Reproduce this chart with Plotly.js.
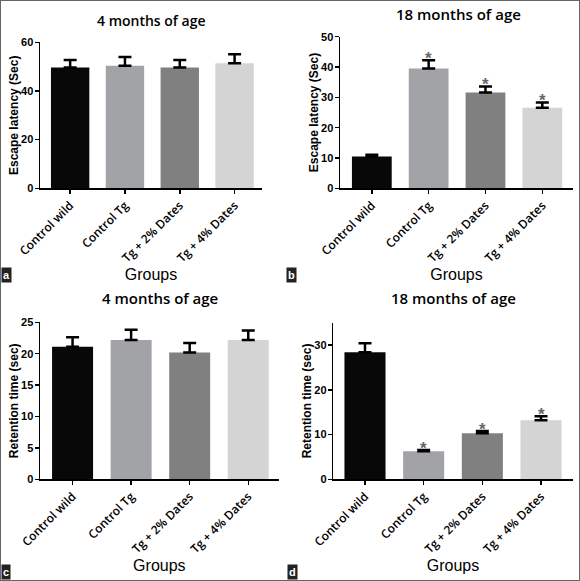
<!DOCTYPE html>
<html>
<head>
<meta charset="utf-8">
<script src="https://cdn.plot.ly/plotly-3.0.1.min.js"></script>
<style>html,body{margin:0;padding:0;background:#fff;}#chart{width:580px;height:581px;}</style>
</head>
<body>
<div id="chart"></div>
<script>
// ---- data ----
const categories = ["Control wild", "Control Tg", "Tg + 2% Dates", "Tg + 4% Dates"];
const barColors = ["#080808", "#a2a3a7", "#808080", "#d4d4d4"];

const escape4 = [49.6, 50.4, 49.6, 51.4];
const escape4Err = [3.1, 3.6, 3.1, 3.7];

const escape18 = [10.5, 39.5, 31.6, 26.6];
const escape18Err = [0.6, 2.7, 2.0, 1.7];
const escape18Sig = [false, true, true, true];

const retention4 = [21.1, 22.2, 20.2, 22.2];
const retention4Err = [1.5, 1.6, 1.5, 1.5];

const retention18 = [28.4, 6.25, 10.3, 13.2];
const retention18Err = [2.0, 0.3, 0.5, 0.9];
const retention18Sig = [false, true, true, true];

const panelTitles = ["4 months of age", "18 months of age", "4 months of age", "18 months of age"];
const yTitles = ["Escape latency (Sec)", "Escape latency (Sec)", "Retention time (sec)", "Retention time (sec)"];
const xTitle = "Groups";
const panelLetters = ["a", "b", "c", "d"];

// ---- layout helpers ----
const W = 580, H = 581;
const px = (a, b) => [a / W, b / W];
const py = (top, bottom) => [(H - bottom) / H, (H - top) / H];

const panels = [
  {vals: escape4, err: escape4Err, sig: null, xd: px(40, 262), yd: py(42.3, 188.3), yr: [0, 60], dt: 20, xr: [-0.55, 3.5], tsize: 14, tpos: [151.7, 20], gs: 0},
  {vals: escape18, err: escape18Err, sig: escape18Sig, xd: px(340, 573), yd: py(36.7, 188.3), yr: [0, 50], dt: 10, xr: [-0.56, 3.54], tsize: 15, tpos: [458, 14], gs: 3},
  {vals: retention4, err: retention4Err, sig: null, xd: px(40, 278.7), yd: py(322.3, 479.3), yr: [0, 25], dt: 5, xr: [-0.556, 3.52], tsize: 15, tpos: [160, 298], gs: 3},
  {vals: retention18, err: retention18Err, sig: retention18Sig, xd: px(333.3, 572.7), yd: py(322.6, 479.3), yr: [0, 35], dt: 10, xr: [-0.54, 3.54], tsize: 15, tpos: [453, 298], gs: 4}
];

const traces = [];
const layout = {
  width: W, height: H,
  margin: {l: 0, r: 0, t: 0, b: 0},
  paper_bgcolor: "#fff", plot_bgcolor: "#fff",
  showlegend: false,
  annotations: [],
  shapes: [{type: "rect", xref: "paper", yref: "paper", x0: 0, x1: 1, y0: 0, y1: 1,
            line: {color: "#666", width: 2}}]
};

panels.forEach((p, i) => {
  const n = i + 1;
  const axKey = n === 1 ? "" : n;
  const xa = "x" + axKey, ya = "y" + axKey;
  traces.push({
    type: "bar", x: categories, y: p.vals, xaxis: xa, yaxis: ya,
    width: 0.7,
    marker: {color: barColors, line: {width: 0}},
    error_y: {type: "data", array: p.err, arrayminus: p.err.map(() => 0), symmetric: false,
              color: "#000", thickness: 2.5, width: 6.5},
    hoverinfo: "none"
  });
  layout["xaxis" + axKey] = {
    domain: p.xd, anchor: ya, type: "category", range: p.xr,
    showline: true, linecolor: "#000", linewidth: 1.5,
    ticks: "outside", ticklen: 4, tickwidth: 1.5, tickcolor: "#000",
    tickangle: -45, showgrid: false, zeroline: false,
    tickfont: {family: "Open Sans", size: 12, color: "#000", weight: 600},
    title: {text: xTitle, font: {family: "Liberation Sans", size: 16, color: "#000"}, standoff: p.gs}
  };
  layout["yaxis" + axKey] = {
    domain: p.yd, anchor: xa, range: p.yr, dtick: p.dt, tick0: 0,
    showline: true, linecolor: "#000", linewidth: 1.5,
    ticks: "outside", ticklen: 4, tickwidth: 1.5, tickcolor: "#000",
    ticklabelstandoff: -1,
    showgrid: false, zeroline: false,
    tickfont: {family: "Liberation Sans", size: 11, color: "#000", weight: "bold"},
    title: {text: yTitles[i], font: {family: "Liberation Sans", size: 12, color: "#000", weight: "bold"}, standoff: 0}
  };
  // panel title
  layout.annotations.push({
    text: panelTitles[i], xref: "paper", yref: "paper",
    x: p.tpos[0] / W, y: (H - p.tpos[1]) / H,
    xanchor: "center", yanchor: "middle", showarrow: false,
    font: {family: "Open Sans", size: p.tsize, color: "#000", weight: 600}
  });
  // significance markers
  if (p.sig) {
    p.sig.forEach((s, k) => {
      if (!s) return;
      layout.annotations.push({
        text: "*", xref: xa, yref: ya, x: categories[k], y: p.vals[k] + p.err[k],
        xanchor: "center", yanchor: "bottom", showarrow: false, yshift: -10,
        font: {family: "Liberation Sans", size: 17, color: "#666", weight: "bold"}
      });
    });
  }
});

// panel letters
const letterPos = [[1, 283], [286, 283], [1, 580], [287, 580]];
panelLetters.forEach((L, i) => {
  layout.annotations.push({
    text: L, xref: "paper", yref: "paper",
    x: letterPos[i][0] / W, y: (H - letterPos[i][1]) / H,
    xanchor: "left", yanchor: "bottom", showarrow: false,
    bgcolor: "#222", borderpad: 1,
    font: {family: "Liberation Sans", size: 11, color: "#fff", weight: "bold"}
  });
});

Plotly.newPlot("chart", traces, layout, {staticPlot: true, displayModeBar: false});
</script>
</body>
</html>
